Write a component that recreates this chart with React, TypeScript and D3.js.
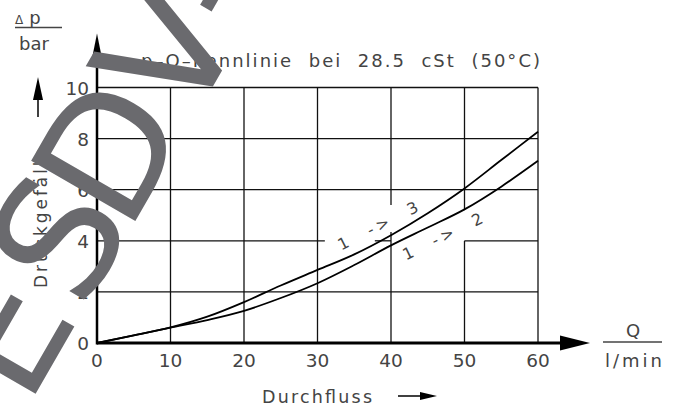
import React from 'react';
import * as d3 from 'd3';

// Durchfluss Q in l/min
const flowQ = [0, 5, 10, 15, 20, 25, 30, 35, 40, 45, 50, 55, 60];
// Druckgefälle in bar, Kanal 1 -> 3
const dp13 = [0, 0.3, 0.61, 1.03, 1.6, 2.25, 2.86, 3.47, 4.22, 5.08, 6.05, 7.16, 8.27];
// Druckgefälle in bar, Kanal 1 -> 2
const dp12 = [0, 0.3, 0.6, 0.9, 1.26, 1.76, 2.34, 3.05, 3.82, 4.52, 5.23, 6.12, 7.13];

const xTicks = [0, 10, 20, 30, 40, 50, 60];
const yTicks = [0, 2, 4, 6, 8, 10];

// Gitterlinien mit Aussparungen für die Beschriftung (in Dateneinheiten)
const hGrid: [number, [number, number][]][] = [
  [2, [[0, 60]]],
  [4, [[0, 31], [37.8, 40], [50, 60]]],
  [6, [[0, 60]]],
  [8, [[0, 60]]],
  [10, [[0, 60]]],
];
const vGrid: [number, [number, number][]][] = [
  [10, [[0, 10]]],
  [20, [[0, 10]]],
  [30, [[0, 10]]],
  [40, [[0, 4.34], [5.4, 10]]],
  [50, [[0, 4], [5.2, 10]]],
  [60, [[0, 10]]],
];

// Wasserzeichen: Buchstaben und ihre Lage entlang der Grundlinie
const watermark = ['E', 'S', 'D', 'V', '-'];
const watermarkPos = [-211, -100, 0, 117, 194];

const FONT = '"DejaVu Sans", sans-serif';
const TXT = '#444';

export default function App() {
  const x = d3.scaleLinear().domain([0, 60]).range([97, 538]);
  const y = d3.scaleLinear().domain([0, 10]).range([343, 87.5]);

  const line = d3
    .line<number>()
    .x((_, i) => x(flowQ[i]))
    .y((d) => y(d))
    .curve(d3.curveMonotoneX);

  const x0 = x(0);
  const y0 = y(0);
  const xEnd = x(60);

  return (
    <svg
      width={678}
      height={408}
      style={{ position: 'absolute', left: 0, top: 0, background: '#fff' }}
    >
      <rect width={678} height={408} fill="#fff" />

      {/* Gitter */}
      <g stroke="#111" strokeWidth={1.3}>
        {hGrid.map(([v, segs]) =>
          segs.map((s, i) => (
            <line key={`h${v}-${i}`} x1={x(s[0])} x2={x(s[1])} y1={y(v)} y2={y(v)} />
          ))
        )}
        {vGrid.map(([v, segs]) =>
          segs.map((s, i) => (
            <line key={`v${v}-${i}`} x1={x(v)} x2={x(v)} y1={y(s[0])} y2={y(s[1])} />
          ))
        )}
      </g>

      {/* Kennlinien */}
      <path d={line(dp13) || ''} fill="none" stroke="#000" strokeWidth={1.8} />
      <path d={line(dp12) || ''} fill="none" stroke="#000" strokeWidth={1.8} />

      {/* Achsen */}
      <line x1={x0} x2={xEnd + 25} y1={y0} y2={y0} stroke="#000" strokeWidth={3} />
      <polygon
        points={`${xEnd + 22},${y0 - 7.5} ${xEnd + 52},${y0} ${xEnd + 22},${y0 + 7.5}`}
        fill="#000"
      />
      <line x1={x0} x2={x0} y1={y0 + 1.5} y2={y(10) - 25} stroke="#000" strokeWidth={2.5} />
      <polygon
        points={`${x0 - 6},${y(10) - 24} ${x0},${y(10) - 54} ${x0 + 6},${y(10) - 24}`}
        fill="#000"
      />

      {/* Achsenbeschriftung */}
      <g fontFamily={FONT} fill={TXT} fontSize={18.5}>
        {xTicks.map((t) => (
          <text key={`xt${t}`} x={x(t)} y={367} textAnchor="middle">
            {t}
          </text>
        ))}
        {yTicks.map((t) => (
          <text key={`yt${t}`} x={89} y={y(t) + 7} textAnchor="end">
            {t}
          </text>
        ))}
      </g>

      {/* Titel */}
      <text
        x={141}
        y={67}
        fontFamily={FONT}
        fontSize={18}
        fill={TXT}
        textLength={399}
        lengthAdjust="spacing"
        style={{ whiteSpace: 'pre' }}
      >
        {'p–Q–Kennlinie  bei  28.5  cSt  (50°C)'}
      </text>

      {/* Δp / bar */}
      <text x={15} y={24} fontFamily={FONT} fill={TXT}>
        <tspan fontSize={12}>Δ</tspan>
        <tspan fontSize={18} dx={6}>p</tspan>
      </text>
      <line x1={15} x2={62} y1={27.5} y2={27.5} stroke={TXT} strokeWidth={1.3} />
      <text x={19} y={50} fontFamily={FONT} fontSize={18} fill={TXT}>
        bar
      </text>
      <line x1={38} x2={38} y1={117} y2={95} stroke="#000" strokeWidth={1.5} />
      <polygon points="33,100 38,77 43,100" fill="#000" />

      <text
        transform="translate(47,218) rotate(-90)"
        textAnchor="middle"
        fontFamily={FONT}
        fontSize={17}
        fill={TXT}
        textLength={140}
        lengthAdjust="spacing"
      >
        Druckgefälle
      </text>

      {/* Q / l/min */}
      <text x={633} y={337} textAnchor="middle" fontFamily={FONT} fontSize={18} fill={TXT}>
        Q
      </text>
      <line x1={603} x2={662} y1={342} y2={342} stroke={TXT} strokeWidth={1.3} />
      <text
        x={605}
        y={367}
        fontFamily={FONT}
        fontSize={18}
        fill={TXT}
        textLength={57}
        lengthAdjust="spacing"
      >
        l/min
      </text>

      <text
        x={262}
        y={403}
        fontFamily={FONT}
        fontSize={17.5}
        fill={TXT}
        textLength={110}
        lengthAdjust="spacing"
      >
        Durchfluss
      </text>
      <line x1={398} x2={422} y1={396} y2={396} stroke="#000" strokeWidth={1.5} />
      <polygon points="420,392 437,396 420,400" fill="#000" />

      {/* Kurvenbezeichnung */}
      <text
        transform={`translate(${x(38.2)},${y(4.6)}) rotate(-27)`}
        textAnchor="middle"
        dy={6}
        fontFamily={FONT}
        fontSize={16}
        fill={TXT}
        textLength={88}
        lengthAdjust="spacing"
        style={{ whiteSpace: 'pre' }}
      >
        {'1  ->  3'}
      </text>
      <text
        transform={`translate(${x(47)},${y(4.19)}) rotate(-26)`}
        textAnchor="middle"
        dy={6}
        fontFamily={FONT}
        fontSize={16}
        fill={TXT}
        textLength={87}
        lengthAdjust="spacing"
        style={{ whiteSpace: 'pre' }}
      >
        {'1  ->  2'}
      </text>

      {/* Wasserzeichen */}
      <g transform="translate(159,180) rotate(-60)" fontFamily={FONT} fontSize={165} fill="#6a6a6e">
        {watermark.map((ch, i) => (
          <text key={`wm${i}`} x={watermarkPos[i]} y={0} textAnchor="middle">
            {ch}
          </text>
        ))}
      </g>
    </svg>
  );
}
